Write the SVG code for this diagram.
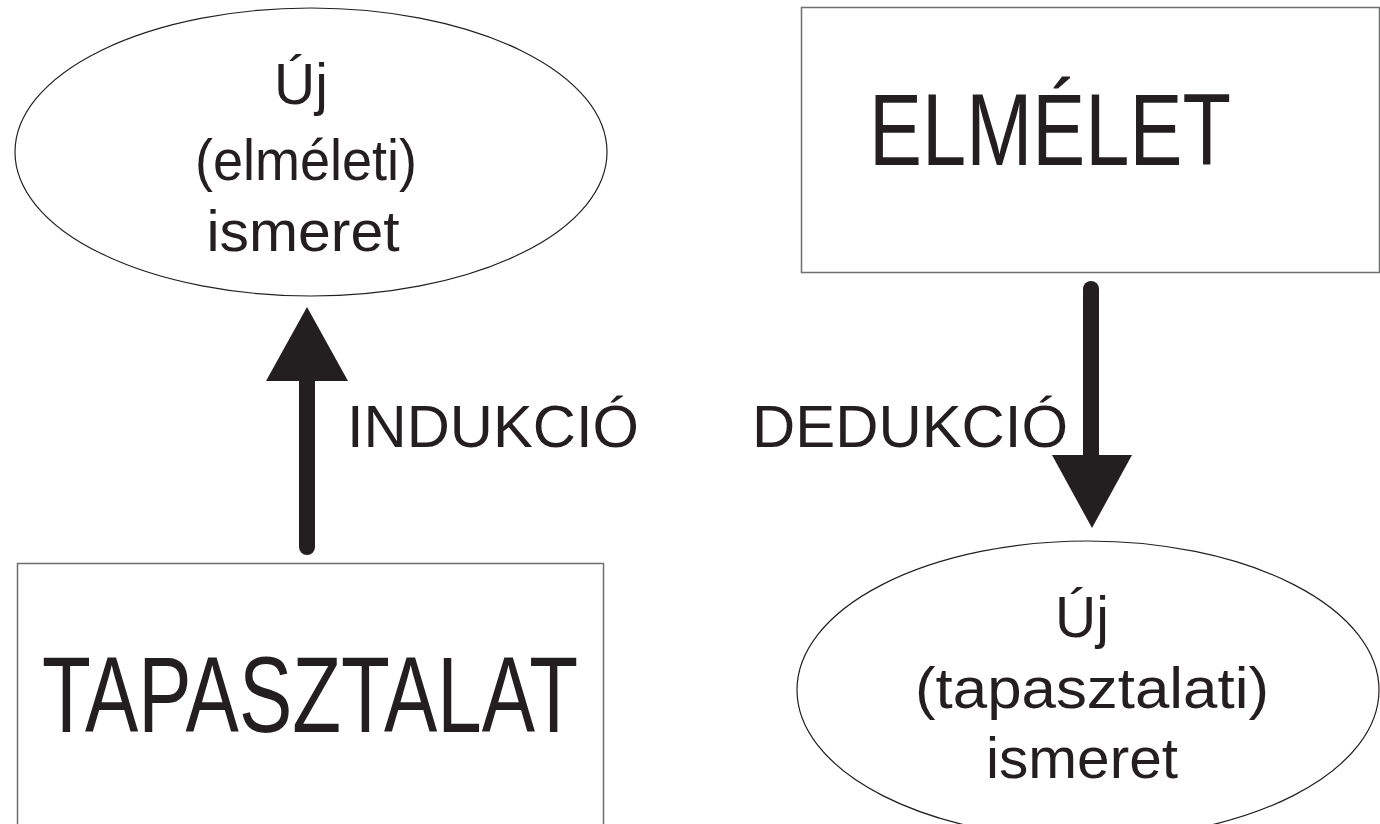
<svg xmlns="http://www.w3.org/2000/svg" width="1380" height="824" viewBox="0 0 1380 824">
  <style>
    .ell { fill: #ffffff; stroke: #231f20; stroke-width: 1.2; }
    .box { fill: #ffffff; stroke: #6d6e71; stroke-width: 1.5; }
    .t { font-family: "Liberation Sans", Arial, sans-serif; fill: #231f20; text-anchor: middle; }
    .et { font-size: 57px; }
    .lbl { font-family: "Liberation Sans", Arial, sans-serif; fill: #231f20; font-size: 60px; }
    .shaft { stroke: #231f20; stroke-width: 16; stroke-linecap: round; fill: none; }
    .head { fill: #231f20; }
  </style>
  <rect width="1380" height="824" fill="#ffffff"/>

  <g id="node-uj-elmeleti">
    <ellipse class="ell" cx="311" cy="152" rx="296" ry="144"/>
    <text class="t et" x="301" y="104">Új</text>
    <text class="t et" x="306" y="180" textLength="222" lengthAdjust="spacingAndGlyphs">(elméleti)</text>
    <text class="t et" x="303" y="251" textLength="193" lengthAdjust="spacingAndGlyphs">ismeret</text>
  </g>

  <g id="node-elmelet">
    <rect class="box" x="801.5" y="7.5" width="578" height="265"/>
    <text class="t" x="1050" y="165" font-size="102" textLength="362" lengthAdjust="spacingAndGlyphs">ELMÉLET</text>
  </g>

  <g id="node-tapasztalat">
    <rect class="box" x="17.5" y="563.5" width="586" height="270"/>
    <text class="t" x="310" y="732" font-size="107" textLength="536" lengthAdjust="spacingAndGlyphs">TAPASZTALAT</text>
  </g>

  <g id="node-uj-tapasztalati">
    <ellipse class="ell" cx="1088" cy="690" rx="291" ry="149"/>
    <text class="t et" x="1082" y="637">Új</text>
    <text class="t et" x="1092" y="708" textLength="354" lengthAdjust="spacingAndGlyphs">(tapasztalati)</text>
    <text class="t et" x="1082" y="778" textLength="192" lengthAdjust="spacingAndGlyphs">ismeret</text>
  </g>

  <g id="connectors">
    <g id="edge-indukcio">
      <line class="shaft" x1="307" y1="547" x2="307" y2="378"/>
      <polygon class="head" points="307,307 266,381 348,381"/>
      <text class="lbl" x="347" y="447" textLength="292" lengthAdjust="spacingAndGlyphs">INDUKCIÓ</text>
    </g>
    <g id="edge-dedukcio">
      <line class="shaft" x1="1091" y1="289" x2="1091" y2="458"/>
      <polygon class="head" points="1092,528 1052,455 1132,455"/>
      <text class="lbl" x="752" y="447" textLength="316" lengthAdjust="spacingAndGlyphs">DEDUKCIÓ</text>
    </g>
  </g>
</svg>
